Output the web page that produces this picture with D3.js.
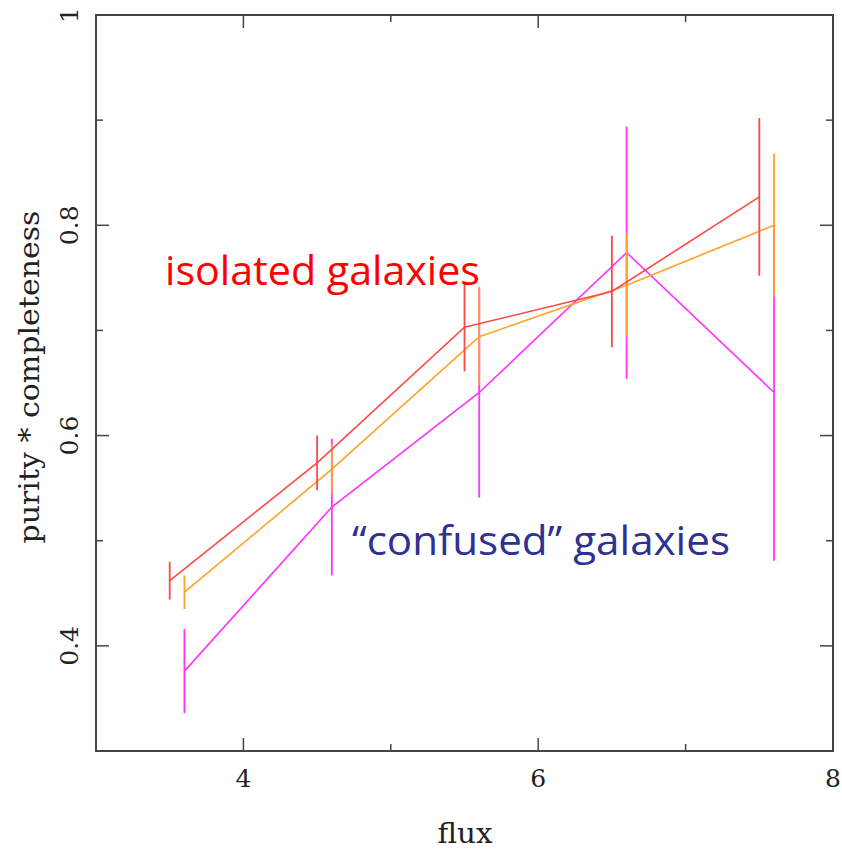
<!DOCTYPE html>
<html>
<head>
<meta charset="utf-8">
<script src="https://cdn.jsdelivr.net/npm/d3@7"></script>
<style>
  html, body { margin: 0; padding: 0; background: #fff; }
  svg { display: block; }
</style>
</head>
<body>
<svg id="chart" width="842" height="849"></svg>
<script>
// Flux bins: the isolated sample is plotted slightly left of the other two
const fluxIsolated = [3.5, 4.5, 5.5, 6.5, 7.5];
const fluxOther    = [3.6, 4.6, 5.6, 6.6, 7.6];

// purity * completeness and its uncertainty per bin
const isolatedValues = [0.462, 0.574, 0.703, 0.737, 0.827];
const isolatedErrors = [0.018, 0.026, 0.042, 0.053, 0.075];
const allValues      = [0.451, 0.568, 0.694, 0.743, 0.800];
const allErrors      = [0.016, 0.024, 0.046, 0.049, 0.068];
const confusedValues = [0.376, 0.532, 0.641, 0.774, 0.641];
const confusedErrors = [0.040, 0.065, 0.100, 0.120, 0.160];

const xMajorTicks = [4, 6, 8];
const xMinorTicks = [5, 7];
const yMajorTicks = [0.4, 0.6, 0.8, 1];
const yMinorTicks = [0.5, 0.7, 0.9];

const svg = d3.select("#chart");
const plotLeft = 96, plotRight = 833, plotTop = 15, plotBottom = 751;

const x = d3.scaleLinear().domain([3, 8]).range([plotLeft, plotRight]);
const y = d3.scaleLinear().domain([0.3, 1]).range([plotBottom, plotTop]);

const axisColor = "#444";
const serif = "'DejaVu Serif', 'Liberation Serif', serif";
const sans = "'Open Sans', 'Noto Sans', sans-serif";

// Series, drawn back to front
const series = [
  { xs: fluxOther,    v: confusedValues, e: confusedErrors, color: "#ff33ff" },
  { xs: fluxOther,    v: allValues,      e: allErrors,      color: "#ffa126" },
  { xs: fluxIsolated, v: isolatedValues, e: isolatedErrors, color: "#ff4848" }
];

const line = d3.line().x(d => x(d[0])).y(d => y(d[1]));

series.forEach(s => {
  const pts = s.xs.map((fx, i) => [fx, s.v[i], s.e[i]]);
  const g = svg.append("g");
  g.selectAll("line.err")
    .data(pts)
    .join("line")
    .attr("class", "err")
    .attr("x1", d => x(d[0])).attr("x2", d => x(d[0]))
    .attr("y1", d => y(d[1] - d[2])).attr("y2", d => y(d[1] + d[2]))
    .attr("stroke", s.color)
    .attr("stroke-width", 1.8);
  g.append("path")
    .datum(pts)
    .attr("d", line)
    .attr("fill", "none")
    .attr("stroke", s.color)
    .attr("stroke-width", 1.6);
});

// Frame with inward ticks on all four sides
const frame = svg.append("g");
frame.append("rect")
  .attr("x", plotLeft).attr("y", plotTop)
  .attr("width", plotRight - plotLeft).attr("height", plotBottom - plotTop)
  .attr("fill", "none").attr("stroke", axisColor).attr("stroke-width", 2);

const major = 13, minor = 7;
function xTicks(vals, len) {
  vals.forEach(v => {
    frame.append("line").attr("x1", x(v)).attr("x2", x(v))
      .attr("y1", plotBottom).attr("y2", plotBottom - len)
      .attr("stroke", axisColor).attr("stroke-width", 1.5);
    frame.append("line").attr("x1", x(v)).attr("x2", x(v))
      .attr("y1", plotTop).attr("y2", plotTop + len)
      .attr("stroke", axisColor).attr("stroke-width", 1.5);
  });
}
function yTicks(vals, len) {
  vals.forEach(v => {
    frame.append("line").attr("x1", plotLeft).attr("x2", plotLeft + len)
      .attr("y1", y(v)).attr("y2", y(v))
      .attr("stroke", axisColor).attr("stroke-width", 1.5);
    frame.append("line").attr("x1", plotRight).attr("x2", plotRight - len)
      .attr("y1", y(v)).attr("y2", y(v))
      .attr("stroke", axisColor).attr("stroke-width", 1.5);
  });
}
xTicks(xMajorTicks, major); xTicks(xMinorTicks, minor);
yTicks(yMajorTicks, major); yTicks(yMinorTicks, minor);

// Tick labels
svg.append("g").selectAll("text")
  .data(xMajorTicks)
  .join("text")
  .attr("x", d => x(d)).attr("y", 787)
  .attr("text-anchor", "middle")
  .attr("font-family", serif).attr("font-size", 25).attr("fill", "#222")
  .text(d => d3.format("d")(d));

svg.append("g").selectAll("text")
  .data(yMajorTicks)
  .join("text")
  .attr("transform", d => `translate(78,${y(d)}) rotate(-90)`)
  .attr("text-anchor", "middle")
  .attr("font-family", serif).attr("font-size", 25).attr("fill", "#222")
  .text(d => d === 1 ? "1" : d3.format(".1f")(d));

// Axis titles
svg.append("text")
  .attr("x", 465).attr("y", 843)
  .attr("text-anchor", "middle")
  .attr("font-family", serif).attr("font-size", 27).attr("fill", "#222")
  .attr("textLength", 55).attr("lengthAdjust", "spacingAndGlyphs")
  .text("flux");

svg.append("text")
  .attr("transform", "translate(39,377) rotate(-90)")
  .attr("text-anchor", "middle")
  .attr("font-family", serif).attr("font-size", 27).attr("fill", "#222")
  .attr("textLength", 333).attr("lengthAdjust", "spacingAndGlyphs")
  .text("purity * completeness");

// Annotations
svg.append("text")
  .attr("x", 165).attr("y", 285)
  .attr("font-family", sans)
  .attr("font-size", 41).attr("fill", "#ff0000")
  .attr("textLength", 315).attr("lengthAdjust", "spacingAndGlyphs")
  .text("isolated galaxies");

svg.append("text")
  .attr("x", 352).attr("y", 555)
  .attr("font-family", sans)
  .attr("font-size", 41).attr("fill", "#2e3192")
  .attr("textLength", 378).attr("lengthAdjust", "spacingAndGlyphs")
  .text("\u201cconfused\u201d galaxies");
</script>
</body>
</html>
